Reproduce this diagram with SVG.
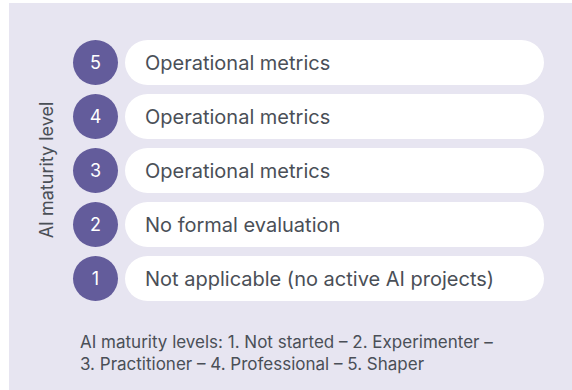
<svg xmlns="http://www.w3.org/2000/svg" width="572" height="390" viewBox="0 0 572 390">
  <style>
    .pill { fill: #ffffff; }
    .badge { fill: #635c9b; }
    .num { font-family: Inter, "Liberation Sans", sans-serif; font-size: 18px; fill: #ffffff; text-anchor: middle; }
    .label { font-family: Inter, "Liberation Sans", sans-serif; font-size: 20px; fill: #4a4f57; }
    .axis { font-family: Inter, "Liberation Sans", sans-serif; font-size: 18px; fill: #4a4f57; text-anchor: middle; }
    .note { font-family: Inter, "Liberation Sans", sans-serif; font-size: 17px; fill: #4a4f57; }
  </style>
  <rect x="0" y="0" width="572" height="390" fill="#ffffff"/>
  <rect x="9" y="3" width="563" height="387" fill="#e7e5f1"/>

  <text class="axis" transform="translate(53,170) rotate(-90)">AI maturity level</text>

  <g id="level-5">
    <rect class="pill" x="125" y="40" width="419" height="45" rx="22.5"/>
    <circle class="badge" cx="95.5" cy="62.5" r="22.5"/>
    <text class="num" x="95.5" y="69">5</text>
    <text class="label" x="145" y="70">Operational metrics</text>
  </g>
  <g id="level-4">
    <rect class="pill" x="125" y="94" width="419" height="45" rx="22.5"/>
    <circle class="badge" cx="95.5" cy="116.5" r="22.5"/>
    <text class="num" x="95.5" y="123">4</text>
    <text class="label" x="145" y="124">Operational metrics</text>
  </g>
  <g id="level-3">
    <rect class="pill" x="125" y="148" width="419" height="45" rx="22.5"/>
    <circle class="badge" cx="95.5" cy="170.5" r="22.5"/>
    <text class="num" x="95.5" y="177">3</text>
    <text class="label" x="145" y="178">Operational metrics</text>
  </g>
  <g id="level-2">
    <rect class="pill" x="125" y="202" width="419" height="45" rx="22.5"/>
    <circle class="badge" cx="95.5" cy="224.5" r="22.5"/>
    <text class="num" x="95.5" y="231">2</text>
    <text class="label" x="145" y="232">No formal evaluation</text>
  </g>
  <g id="level-1">
    <rect class="pill" x="125" y="256" width="419" height="45" rx="22.5"/>
    <circle class="badge" cx="95.5" cy="278.5" r="22.5"/>
    <text class="num" x="95.5" y="285">1</text>
    <text class="label" x="145" y="286">Not applicable (no active AI projects)</text>
  </g>

  <g id="connectors"/>

  <text class="note" x="80" y="348">AI maturity levels: 1. Not started – 2. Experimenter –</text>
  <text class="note" x="80" y="370">3. Practitioner – 4. Professional – 5. Shaper</text>
</svg>
